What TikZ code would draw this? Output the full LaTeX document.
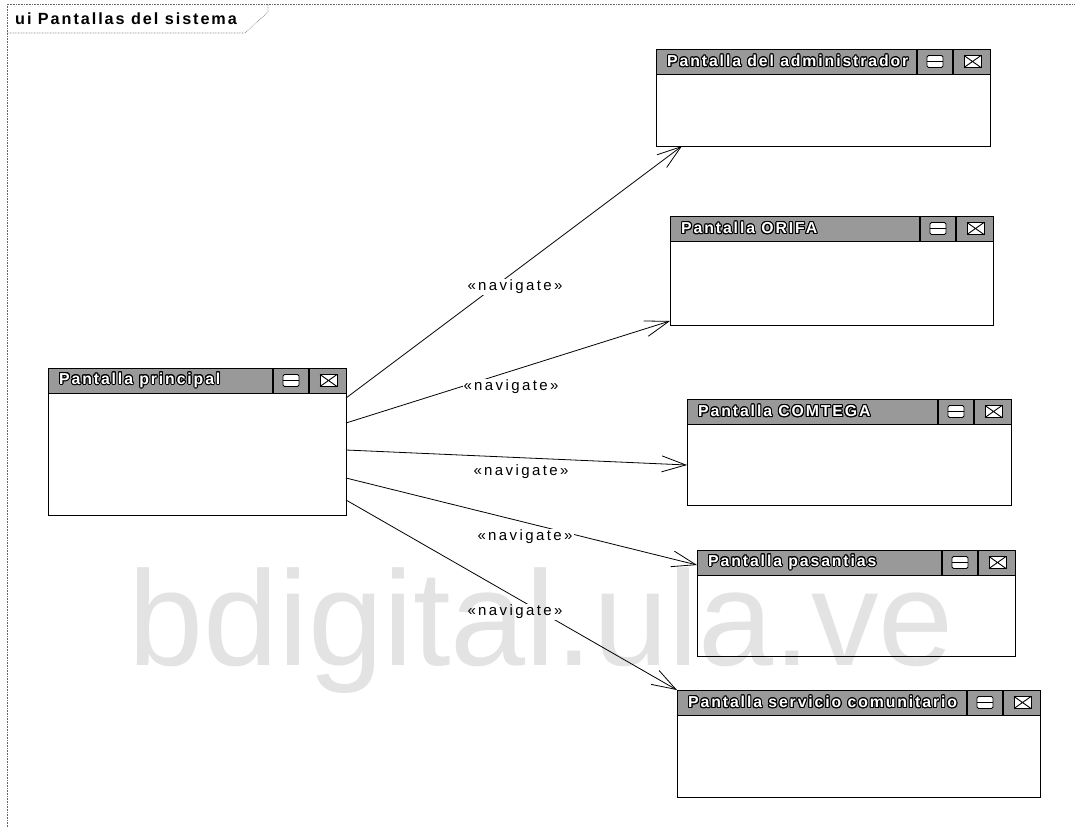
\documentclass[tikz,border=0pt]{standalone}
\usepackage{fontspec}
\setmainfont{Liberation Sans}
\newfontfamily\widesans[LetterSpace=12]{Liberation Sans}
\newfontfamily\labelsans[LetterSpace=16]{Liberation Sans}
\usepackage[copies]{contour}
\contourlength{1pt}
\usetikzlibrary{arrows.meta,calc}

\tikzset{
  winbody/.style={draw, line width=0.9pt, inner sep=0pt, outer sep=0pt},
  titlebar/.style={draw, line width=0.9pt, fill=black!40},
  sepline/.style={line width=1.8pt},
  btn/.style={draw, line width=0.9pt, fill=white},
  wintitle/.style={anchor=west, inner sep=0pt, text=white,
    font=\widesans\bfseries\fontsize{15.8}{17}\selectfont},
  nav/.style={line width=0.8pt,
    -{Straight Barb[length=24pt,width=16pt,line width=0.8pt]}},
  navlabel/.style={fill=white, inner sep=1pt,
    font=\labelsans\fontsize{15}{17}\selectfont},
  framestyle/.style={black!60, line width=0.6pt, densely dotted},
}

% a UI window: name, left, top, width, height, caption
\newcommand\uiwindow[6]{%
  \node[winbody, anchor=north west, minimum width=#4pt, minimum height=#5pt]
    (#1) at (#2,#3) {};
  \path[titlebar] (#1.north west) rectangle ([yshift=-25pt]#1.north east);
  \draw[sepline] ([xshift=-73pt]#1.north east) -- ++(0,-25pt);
  \draw[sepline] ([xshift=-37pt]#1.north east) -- ++(0,-25pt);
  % minimise button
  \path[btn, rounded corners=1.5pt] ($(#1.north east)+(-63pt,-6.5pt)$) rectangle ++(16pt,-12pt);
  \draw[line width=1.4pt] ($(#1.north east)+(-63pt,-12.5pt)$) -- ++(16pt,0);
  % close button
  \path[btn] ($(#1.north east)+(-26pt,-6.5pt)$) rectangle ++(17pt,-12pt);
  \draw[line width=0.9pt] ($(#1.north east)+(-26pt,-6.5pt)$) -- ++(17pt,-12pt)
                          ($(#1.north east)+(-26pt,-18.5pt)$) -- ++(17pt,12pt);
  \node[wintitle] (#1-cap) at ($(#1.north west)+(11pt,-12.5pt)$) {\contour{black}{#6}};
}

\begin{document}
\begin{tikzpicture}[x=1pt, y=-1pt]
  \fill[white] (0,0) rectangle (1075,827);
  \useasboundingbox (0,0) rectangle (1075,827);

  % diagram frame with its name tab
  \draw[framestyle] (7,827) -- (7,4) -- (1075,4);
  \draw[framestyle] (7,33) -- (245,33) -- (268,12) -- (268,4);
  \node[anchor=west, inner sep=0pt, font=\widesans\bfseries\fontsize{16.2}{18}\selectfont]
    (frametitle) at (15,19) {ui Pantallas del sistema};

  % screens
  \uiwindow{main}{48}{368}{298}{147}{Pantalla principal}
  \uiwindow{admin}{656}{49}{334}{97}{Pantalla del administrador}
  \uiwindow{orifa}{670}{216}{323}{109}{Pantalla ORIFA}
  \uiwindow{comtega}{687}{399}{324}{106}{Pantalla COMTEGA}
  \uiwindow{pasant}{697}{550}{318}{106}{Pantalla pasantias}
  \uiwindow{servicio}{677}{690}{363}{107}{Pantalla servicio comunitario}

  % navigation links
  \draw[nav] ([yshift=-30pt]main.north east) -- ([xshift=26pt]admin.south west);
  \draw[nav] ([yshift=-55pt]main.north east) -- ([yshift=4pt]orifa.south west);
  \draw[nav] ([yshift=-82pt]main.north east) -- ([yshift=-66pt]comtega.north west);
  \draw[nav] ([yshift=-110pt]main.north east) -- ([yshift=-15pt]pasant.north west);
  \draw[nav] ([yshift=-132pt]main.north east) -- (servicio.north west);

  \node[navlabel] (l1) at (515,287) {«navigate»};
  \node[navlabel] (l2) at (511,387) {«navigate»};
  \node[navlabel] (l3) at (521,472) {«navigate»};
  \node[navlabel] (l4) at (525,537) {«navigate»};
  \node[navlabel] (l5) at (515,612) {«navigate»};

  % repository watermark
  \node[anchor=base west, inner sep=0pt, text=black, opacity=0.11,
        font=\fontsize{135}{135}\selectfont] (wm) at (128,665) {bdigital.ula.ve};
\end{tikzpicture}
\end{document}
